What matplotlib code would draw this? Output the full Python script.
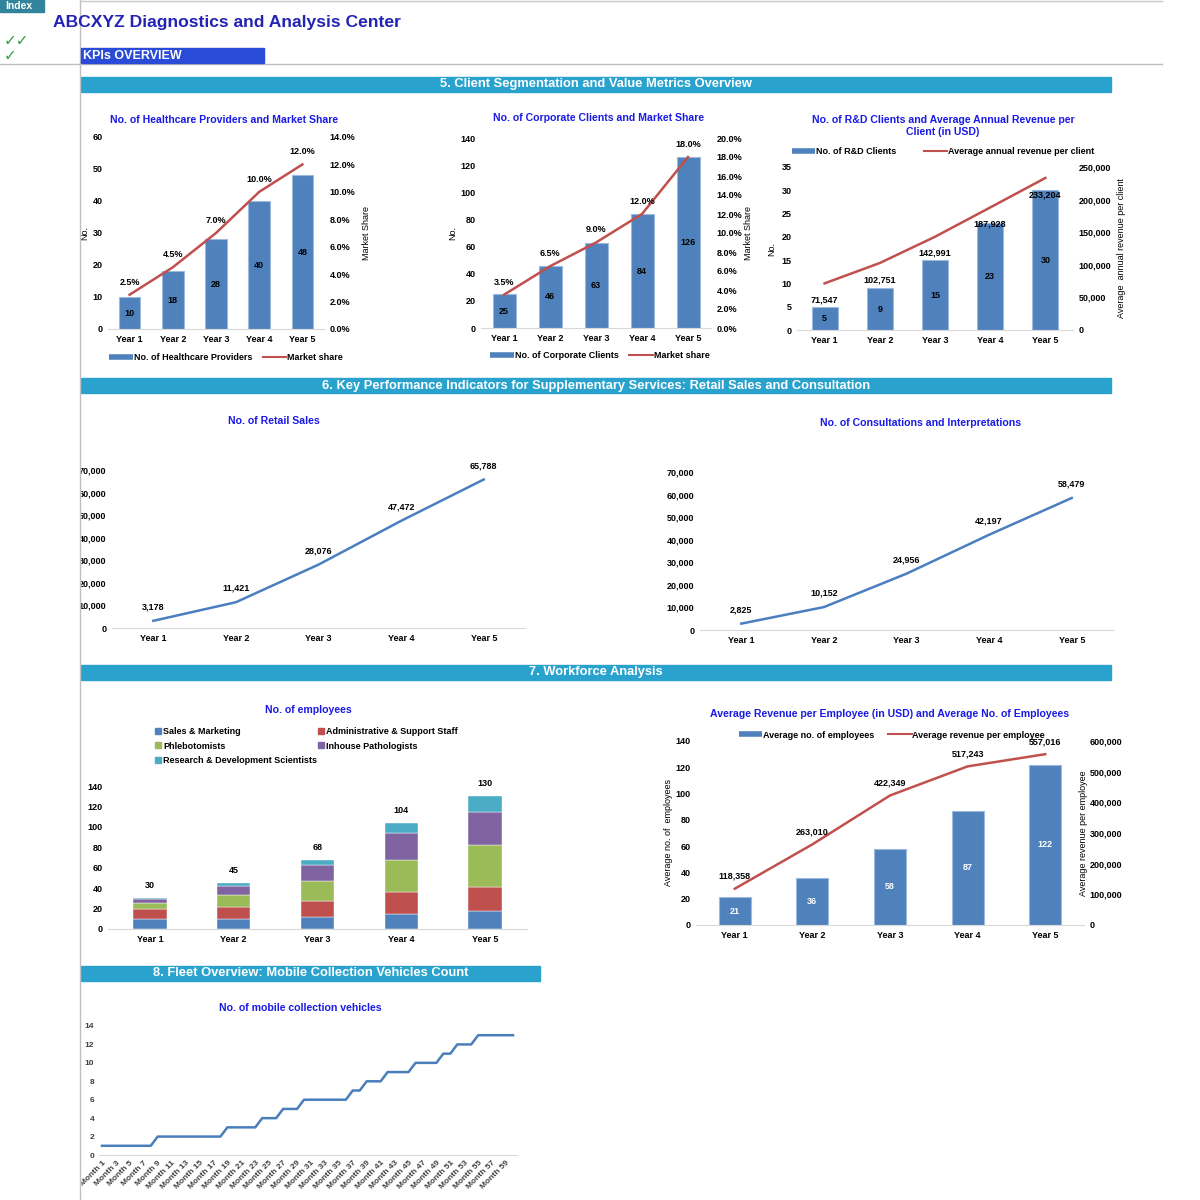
import numpy as np
import matplotlib.pyplot as plt
from matplotlib.lines import Line2D
from matplotlib.patches import Rectangle
from matplotlib.ticker import FuncFormatter

plt.rcParams['font.family'] = ['Liberation Sans', 'DejaVu Sans']
plt.rcParams['font.weight'] = 'bold'

# ---------------- data ----------------
years = ['Year 1', 'Year 2', 'Year 3', 'Year 4', 'Year 5']

healthcare_providers = [10, 18, 28, 40, 48]
healthcare_share = [2.5, 4.5, 7.0, 10.0, 12.0]

corporate_clients = [25, 46, 63, 84, 126]
corporate_share = [3.5, 6.5, 9.0, 12.0, 18.0]

rd_clients = [5, 9, 15, 23, 30]
rd_revenue = [71547, 102751, 142991, 187928, 233204]

retail_sales = [3178, 11421, 28076, 47472, 65788]
consultations = [2825, 10152, 24956, 42197, 58479]

emp_groups = ['Sales & Marketing', 'Administrative & Support Staff', 'Phlebotomists',
              'Inhouse Pathologists', 'Research & Development Scientists']
emp_sales = [10, 10, 12, 15, 18]
emp_admin = [10, 12, 15, 21, 23]
emp_phleb = [5, 11, 20, 32, 41]
emp_path = [4, 9, 16, 26, 33]
emp_rd = [1, 3, 5, 10, 15]

avg_employees = [21, 36, 58, 87, 122]
avg_rev_employee = [118358, 263010, 422349, 517243, 557016]

months = ['Month %d' % m for m in range(1, 61)]
vehicles = [1]*8 + [2]*10 + [3]*5 + [4]*3 + [5]*3 + [6]*7 + [7]*2 + [8]*3 + [9]*4 + [10]*4 + [11]*2 + [12]*3 + [13]*6

# ---------------- style ----------------
BLUE = '#4F81BD'
RED = '#C0504D'
TITLE = '#1A1AE6'
BANNER = '#29A3CD'
W, H = 1200, 1200
TS = 6.5
TT = 7.6

fig = plt.figure(figsize=(12, 12), dpi=100)


def px_axes(x0, y0, x1, y1):
    return fig.add_axes([x0 / W, 1 - y1 / H, (x1 - x0) / W, (y1 - y0) / H])


def fx(x):
    return x / W


def fy(y):
    return 1 - y / H


def excel_style(ax):
    for s in ['top', 'right', 'left']:
        ax.spines[s].set_visible(False)
    ax.spines['bottom'].set_color('#D9D9D9')
    ax.tick_params(length=0, labelsize=TS, pad=4)
    ax.set_facecolor('none')


def thousands(v, p):
    return '{:,.0f}'.format(v)


def pct(v, p):
    return '{:.1f}%'.format(v)


def bar_line_chart(box, bars, line, ymax, ystep, y2max, y2step, y2fmt, line_fmt,
                   bar_w, label_below=False, bar_txt='black'):
    ax = px_axes(*box)
    x = np.arange(len(years))
    b = ax.bar(x, bars, width=bar_w, color=BLUE, edgecolor='#9DB9DC', linewidth=0.8, zorder=2)
    for xi, v in zip(x, bars):
        ax.text(xi, v / 2, str(v), ha='center', va='center', fontsize=TS, color=bar_txt, zorder=5)
    ax.set_xlim(-0.5, len(years) - 0.5)
    ax.set_ylim(0, ymax)
    ax.set_yticks(np.arange(0, ymax + 0.1, ystep))
    ax.set_xticks(x)
    ax.set_xticklabels(years)
    excel_style(ax)
    ax2 = ax.twinx()
    l, = ax2.plot(x, line, color=RED, lw=1.8, zorder=3)
    ax2.set_ylim(0, y2max)
    ax2.set_yticks(np.arange(0, y2max + 0.01, y2step))
    ax2.yaxis.set_major_formatter(FuncFormatter(y2fmt))
    excel_style(ax2)
    ax2.spines['bottom'].set_visible(False)
    off = -12 if label_below else 9
    for xi, v in zip(x, line):
        ax2.annotate(line_fmt(v), (xi, v), xytext=(0, off), textcoords='offset points',
                     ha='center', va='center', fontsize=TS, zorder=6)
    return ax, ax2, b, l


def banner(x0, x1, y0, y1, text):
    fig.patches.append(Rectangle((fx(x0), fy(y1)), fx(x1 - x0), (y1 - y0) / H,
                                 transform=fig.transFigure, color=BANNER, zorder=3))
    fig.text(fx((x0 + x1) / 2), fy((y0 + y1) / 2), text, ha='center', va='center',
             color='white', fontsize=9.3, zorder=4)


def legend_handles(bar_label, line_label):
    return [Line2D([], [], color=BLUE, lw=4, solid_capstyle='butt'),
            Line2D([], [], color=RED, lw=1.5)], [bar_label, line_label]


# ---------------- 5. client segmentation ----------------
ax, ax2, b, l = bar_line_chart((108, 137, 324, 329), healthcare_providers, healthcare_share,
                               60, 10, 14, 2, pct, lambda v: '%.1f%%' % v, 0.5)
ax.set_ylabel('No.', fontsize=TS, labelpad=2)
ax2.set_ylabel('Market Share', fontsize=TS, labelpad=5)
fig.text(fx(224), fy(120), 'No. of Healthcare Providers and Market Share', ha='center', va='center',
         color=TITLE, fontsize=TT)
h, lb = legend_handles('No. of Healthcare Providers', 'Market share')
fig.legend(h, lb, loc='center', bbox_to_anchor=(fx(226), fy(358)), ncol=2, frameon=False,
           fontsize=TS, handlelength=2.6, handletextpad=0.1, columnspacing=1.2)

ax, ax2, b, l = bar_line_chart((481, 138, 711, 328), corporate_clients, corporate_share,
                               140, 20, 20, 2, pct, lambda v: '%.1f%%' % v, 0.5)
ax.set_ylabel('No.', fontsize=TS, labelpad=2)
ax2.set_ylabel('Market Share', fontsize=TS, labelpad=1)
fig.text(fx(599), fy(118), 'No. of Corporate Clients and Market Share', ha='center', va='center',
         color=TITLE, fontsize=TT)
h, lb = legend_handles('No. of Corporate Clients', 'Market share')
fig.legend(h, lb, loc='center', bbox_to_anchor=(fx(600), fy(356)), ncol=2, frameon=False,
           fontsize=TS, handlelength=2.6, handletextpad=0.1, columnspacing=1.2)

ax, ax2, b, l = bar_line_chart((797, 167, 1073, 330), rd_clients, rd_revenue,
                               35, 5, 250000, 50000, thousands, lambda v: '{:,}'.format(v), 0.47,
                               label_below=True)
ax.set_ylabel('No.', fontsize=TS, labelpad=4)
ax2.set_ylabel('Average  annual revenue per client', fontsize=TS, labelpad=4)
fig.text(fx(943), fy(126), 'No. of R&D Clients and Average Annual Revenue per\nClient (in USD)',
         ha='center', va='center', color=TITLE, fontsize=TT, linespacing=1.15)
h, lb = legend_handles('No. of R&D Clients', 'Average annual revenue per client')
fig.legend(h, lb, loc='center', bbox_to_anchor=(fx(943), fy(152)), ncol=2, frameon=False,
           fontsize=TS, handlelength=2.6, handletextpad=0.1, columnspacing=3.0)

# ---------------- 6. retail and consultations ----------------
for box, vals, title, tpos in [((112, 470, 525, 628), retail_sales, 'No. of Retail Sales', (274, 421)),
                               ((700, 472, 1113, 630), consultations,
                                'No. of Consultations and Interpretations', (921, 423))]:
    ax = px_axes(*box)
    x = np.arange(len(years))
    ax.plot(x, vals, color='#4A7EC0', lw=1.8)
    for xi, v in zip(x, vals):
        ax.annotate('{:,}'.format(v), (xi, v), xytext=(0, 10), textcoords='offset points',
                    ha='center', va='center', fontsize=TS)
    ax.set_xlim(-0.5, 4.5)
    ax.set_ylim(0, 70000)
    ax.set_yticks(np.arange(0, 70001, 10000))
    ax.yaxis.set_major_formatter(FuncFormatter(thousands))
    ax.set_xticks(x)
    ax.set_xticklabels(years)
    excel_style(ax)
    fig.text(fx(tpos[0]), fy(tpos[1]), title, ha='center', va='center', color=TITLE, fontsize=TT)

# ---------------- 7. workforce ----------------
ax = px_axes(108, 786, 527, 929)
x = np.arange(len(years))
stack_colors = [BLUE, RED, '#9BBB59', '#8064A2', '#4BACC6']
bottom = np.zeros(len(years))
handles = []
for vals, c in zip([emp_sales, emp_admin, emp_phleb, emp_path, emp_rd], stack_colors):
    ax.bar(x, vals, bottom=bottom, width=0.4, color=c, edgecolor='white', linewidth=0.3)
    handles.append(Line2D([], [], marker='s', ls='', color=c, markersize=4))
    bottom += np.array(vals)
for xi, v in zip(x, bottom):
    ax.annotate('%d' % v, (xi, v), xytext=(0, 9), textcoords='offset points',
                ha='center', va='center', fontsize=TS)
ax.set_xlim(-0.5, 4.5)
ax.set_ylim(0, 140)
ax.set_yticks(np.arange(0, 141, 20))
ax.set_xticks(x)
ax.set_xticklabels(years)
excel_style(ax)
fig.text(fx(308), fy(710), 'No. of employees', ha='center', va='center', color=TITLE, fontsize=TT)
order = [0, 2, 4, 1, 3]
fig.legend([handles[i] for i in order], [emp_groups[i] for i in order], loc='upper left',
           bbox_to_anchor=(fx(146), fy(719)), ncol=2, frameon=False, fontsize=TS,
           handlelength=0.8, handletextpad=0.2, columnspacing=0.0, labelspacing=0.6)

ax, ax2, b, l = bar_line_chart((696, 741, 1084, 925), avg_employees, avg_rev_employee,
                               140, 20, 600000, 100000, thousands, lambda v: '{:,}'.format(v), 0.41,
                               bar_txt='white')
ax.set_ylabel('Average no. of  employees', fontsize=TS, labelpad=2)
ax2.set_ylabel('Average revenue per employee', fontsize=TS, labelpad=-31)
fig.text(fx(890), fy(714), 'Average Revenue per Employee (in USD) and Average No. of Employees',
         ha='center', va='center', color=TITLE, fontsize=TT)
h, lb = legend_handles('Average no. of employees', 'Average revenue per employee')
fig.legend(h, lb, loc='center', bbox_to_anchor=(fx(892), fy(735)), ncol=2, frameon=False,
           fontsize=TS, handlelength=2.6, handletextpad=0.1, columnspacing=1.5)

# ---------------- 8. fleet ----------------
ax = px_axes(98.5, 1026, 516.5, 1155)
xm = np.arange(len(months))
ax.plot(xm, vehicles, color='#4A7EBB', lw=1.8)
ax.set_xlim(-0.5, len(months) - 0.5)
ax.set_ylim(0, 14)
ax.set_yticks(np.arange(0, 15, 2))
ax.set_xticks(xm[::2])
ax.set_xticklabels(months[::2], rotation=45, ha='right', rotation_mode='anchor')
excel_style(ax)
ax.tick_params(labelsize=6, labelcolor='#404040', pad=3)
fig.text(fx(300), fy(1008), 'No. of mobile collection vehicles', ha='center', va='center',
         color=TITLE, fontsize=TT)

# ---------------- banners and sheet header ----------------
banner(81, 1111, 77, 92, '5. Client Segmentation and Value Metrics Overview')
banner(81, 1111, 378, 393, '6. Key Performance Indicators for Supplementary Services: Retail Sales and Consultation')
banner(81, 1111, 665, 680, '7. Workforce Analysis')
banner(81, 540, 966, 981, '8. Fleet Overview: Mobile Collection Vehicles Count')

# white strip left of the column border (hides cut tick labels)
fig.patches.append(Rectangle((0, 0), fx(79.5), fy(66), transform=fig.transFigure,
                             color='white', zorder=2))
fig.add_artist(Line2D([fx(80), fx(80)], [0, 1], color='#BFBFBF', lw=1, zorder=5))
fig.add_artist(Line2D([fx(80), fx(1162)], [fy(0.5), fy(0.5)], color='#C8C8C8', lw=1, zorder=5))
fig.add_artist(Line2D([0, fx(1162)], [fy(64), fy(64)], color='#BFBFBF', lw=1, zorder=5))

fig.patches.append(Rectangle((0, fy(12)), fx(44), 12 / H, transform=fig.transFigure,
                             color='#31849B', zorder=6))
fig.text(fx(5), fy(6), 'Index', ha='left', va='center', color='white', fontsize=7.5, zorder=7)
fig.text(fx(53), fy(22), 'ABCXYZ Diagnostics and Analysis Center', ha='left', va='center',
         color='#2323B5', fontsize=12.6, zorder=7)
fig.text(fx(4), fy(41), '✓✓', ha='left', va='center', color='#2E9E4E', fontsize=11, zorder=7,
         fontweight='normal')
fig.text(fx(4), fy(56), '✓', ha='left', va='center', color='#2E9E4E', fontsize=11, zorder=7,
         fontweight='normal')
fig.patches.append(Rectangle((fx(81), fy(63)), fx(183), 15 / H, transform=fig.transFigure,
                             color='#2A4BD7', zorder=6))
fig.text(fx(83), fy(56), 'KPIs OVERVIEW', ha='left', va='center', color='white', fontsize=9, zorder=7)

fig.savefig('out.png', dpi=100, facecolor='white')
